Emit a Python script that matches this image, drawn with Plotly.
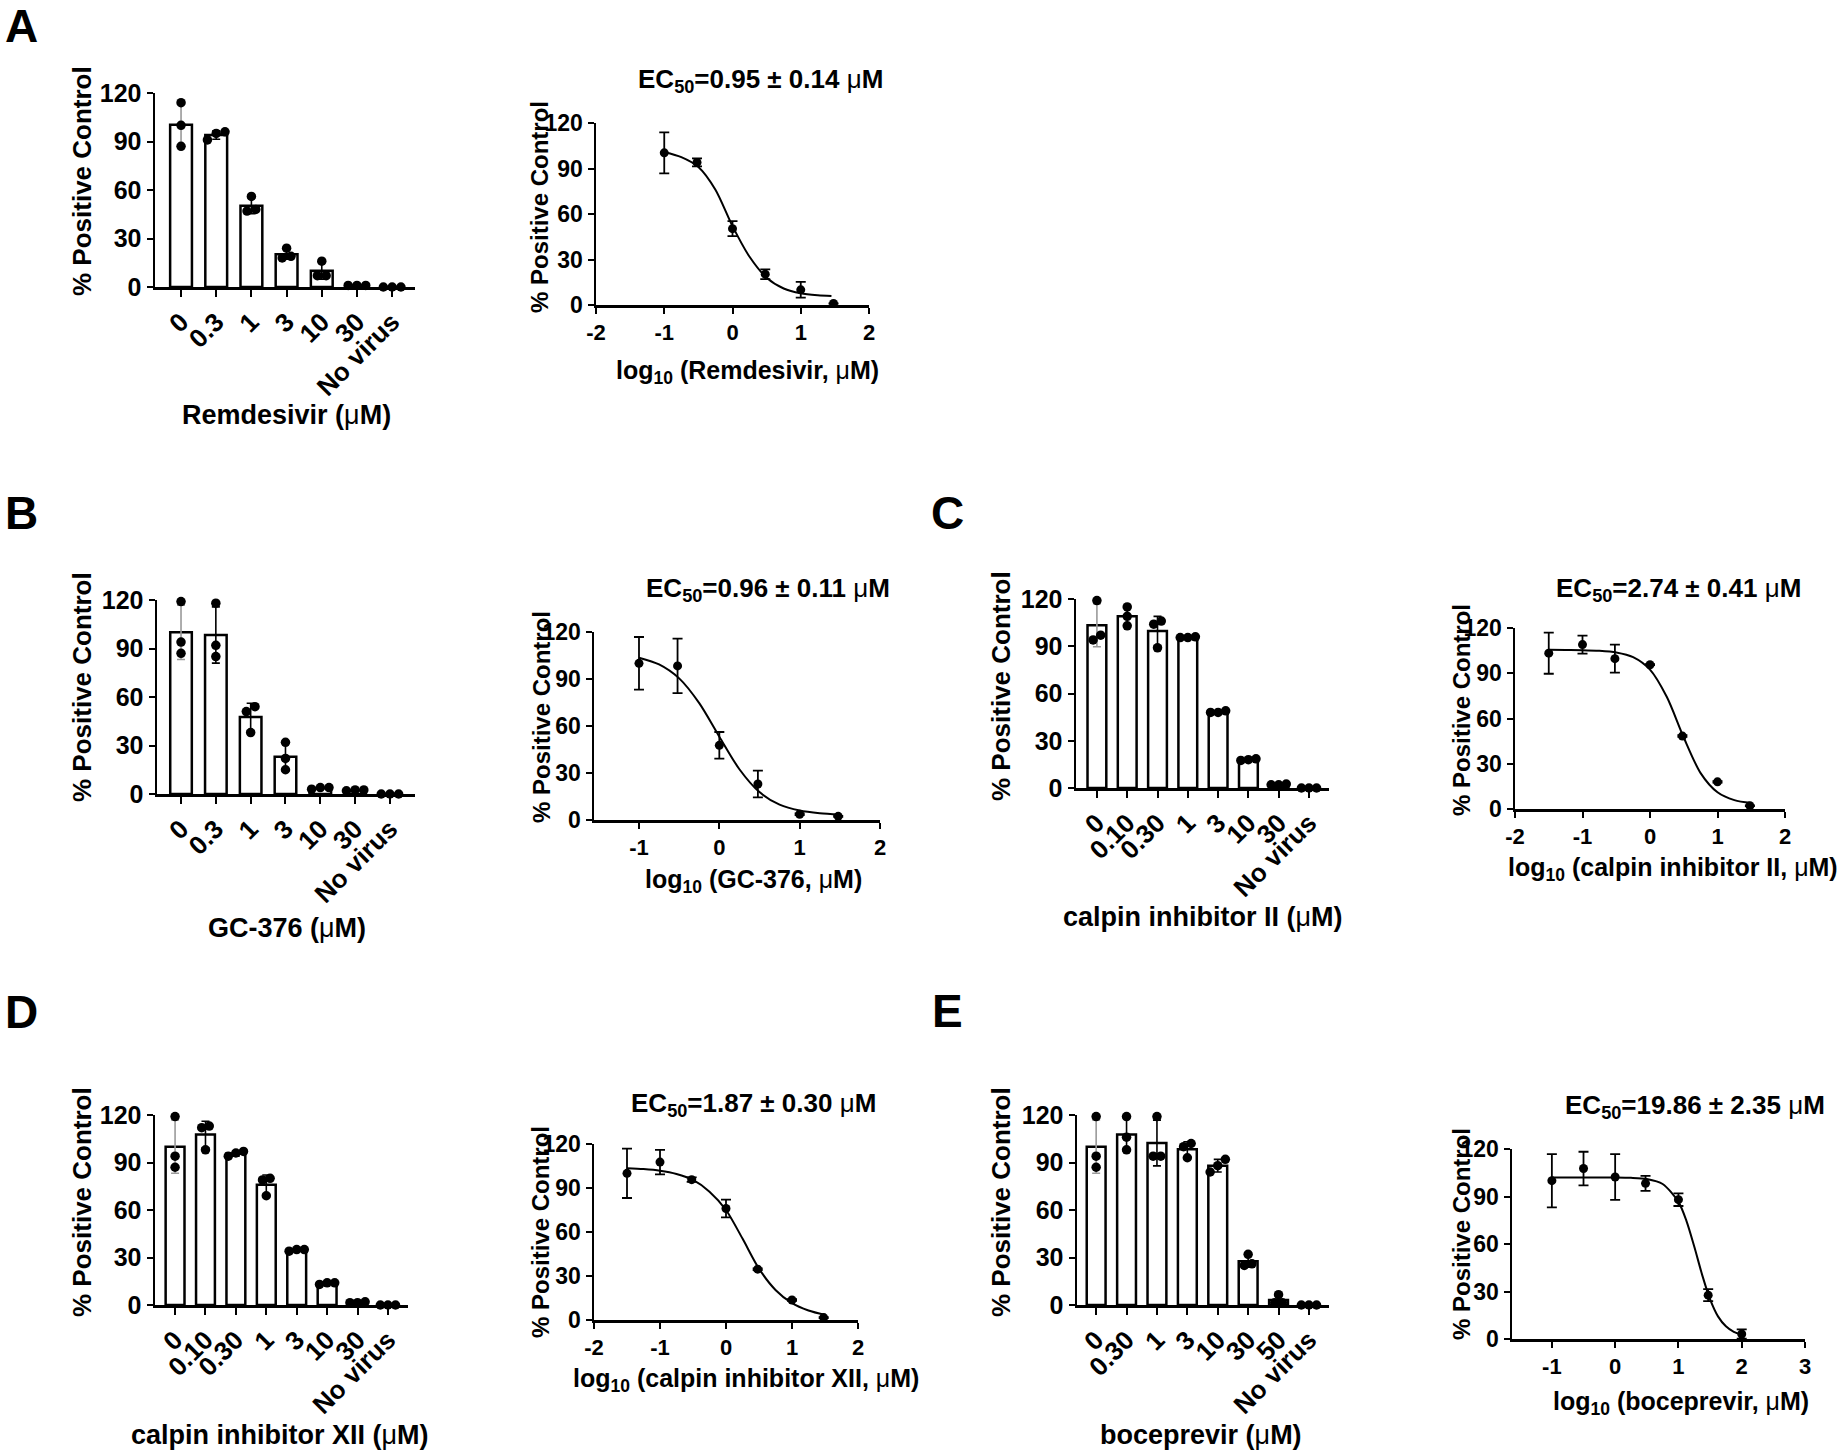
import numpy as np
import plotly.graph_objects as go

W, H = 1842, 1450
FONT = "Liberation Sans, Arial, sans-serif"

# ---------------- DATA ----------------
# Panel A - Remdesivir
A_cats = ["0", "0.3", "1", "3", "10", "30", "No virus"]
A_rep1 = [114, 96, 56, 24, 16, 1, 0]
A_rep2 = [100, 91, 47, 18, 7, 1, 0]
A_rep3 = [87, 95, 48, 19, 7, 1, 0]
A_logx = [-1, -0.52, 0, 0.48, 1, 1.48]
A_fit_x = [-1, -0.75, -0.5, -0.25, 0, 0.25, 0.5, 0.75, 1, 1.25, 1.45]
A_fit_y = [100.9, 97.5, 91.0, 76.0, 52.0, 31.8, 18.0, 10.9, 7.7, 6.4, 5.9]

# Panel B - GC-376
B_cats = ["0", "0.3", "1", "3", "10", "30", "No virus"]
B_rep1 = [119, 118, 54, 32, 3, 2, 0]
B_rep2 = [94, 92, 51, 22, 4, 2.5, 0]
B_rep3 = [87, 85, 38, 15, 4, 2.5, 0]
B_logx = [-1, -0.52, 0, 0.48, 1, 1.48]
B_fit_x = [-1, -0.75, -0.5, -0.25, 0, 0.25, 0.5, 0.75, 1, 1.25, 1.5]
B_fit_y = [103.6, 99.3, 90.4, 74.6, 53.2, 32.4, 17.8, 9.8, 6.0, 4.3, 3.5]

# Panel C - calpin inhibitor II
C_cats = ["0", "0.10", "0.30", "1", "3", "10", "30", "No virus"]
C_rep1 = [119, 115, 106, 96, 48, 18, 2, 0]
C_rep2 = [94, 109, 104, 95.5, 48, 17.5, 2, 0]
C_rep3 = [97, 103, 89, 95.5, 49, 18.5, 2.5, 0]
C_logx = [-1.5, -1, -0.52, 0, 0.48, 1, 1.48]
C_fit_x = [-1.5, -1.25, -1, -0.75, -0.5, -0.25, 0, 0.25, 0.5, 0.75, 1, 1.25, 1.5]
C_fit_y = [105.5, 105.4, 105.3, 104.9, 103.8, 100.7, 92.4, 74.2, 47.4, 23.8, 11.1, 5.9, 4.0]

# Panel D - calpin inhibitor XII
D_cats = ["0", "0.10", "0.30", "1", "3", "10", "30", "No virus"]
D_rep1 = [119, 113, 97, 80, 35, 14, 1.5, 0]
D_rep2 = [94, 112, 94, 79, 34, 13, 1.5, 0]
D_rep3 = [87, 98, 96, 69, 35, 14, 2, 0]
D_logx = [-1.5, -1, -0.52, 0, 0.48, 1, 1.48]
D_fit_x = [-1.5, -1.25, -1, -0.75, -0.5, -0.25, 0, 0.25, 0.5, 0.75, 1, 1.25, 1.5]
D_fit_y = [103.5, 102.9, 101.8, 99.6, 95.5, 87.5, 75.0, 55.5, 35.0, 20.5, 11.5, 6.5, 3.5]

# Panel E - boceprevir
E_cats = ["0", "0.30", "1", "3", "10", "30", "50", "No virus"]
E_rep1 = [119, 119, 119, 102, 92, 32, 6.5, 0]
E_rep2 = [94, 106, 94, 100, 88, 26, 1.5, 0]
E_rep3 = [87, 98, 94, 93, 84, 25, 1.5, 0]
E_logx = [-1, -0.5, 0, 0.48, 1, 1.47, 2.0]
E_fit_x = [-1, -0.5, 0, 0.25, 0.5, 0.75, 1, 1.125, 1.25, 1.375, 1.5, 1.625, 1.75, 1.875, 2]
E_fit_y = [102, 102, 102, 101.8, 101.0, 97.9, 86.6, 74.8, 58.4, 40.5, 25.0, 14.3, 8.0, 4.5, 2.7]

EC50_text = {"A": "0.95 ± 0.14", "B": "0.96 ± 0.11", "C": "2.74 ± 0.41",
             "D": "1.87 ± 0.30", "E": "19.86 ± 2.35"}
drug_names = {"A": "Remdesivir", "B": "GC-376", "C": "calpin inhibitor II",
              "D": "calpin inhibitor XII", "E": "boceprevir"}

# ---------------- LAYOUT GEOMETRY (pixels) ----------------
bar_geom = {
    "A": dict(x=(155, 415), y=(93, 287), xr=(-0.74, 6.65), ytitle=(82, 181), xtitle=(286, 415)),
    "B": dict(x=(157, 415), y=(600, 794), xr=(-0.69, 6.72), ytitle=(82, 687), xtitle=(287, 928)),
    "C": dict(x=(1076, 1329), y=(599, 788), xr=(-0.69, 7.66), ytitle=(1001, 686), xtitle=(1203, 917)),
    "D": dict(x=(155, 408), y=(1115, 1305), xr=(-0.66, 7.66), ytitle=(82, 1202), xtitle=(280, 1435)),
    "E": dict(x=(1077, 1329), y=(1115, 1305), xr=(-0.63, 7.66), ytitle=(1001, 1202), xtitle=(1201, 1435)),
}
curve_geom = {
    "A": dict(x=(596, 869), y=(123, 305), xr=(-2, 2), ytitle=(539, 207), xtitle=(747, 372), ec=(760, 80)),
    "B": dict(x=(594, 880), y=(632, 820), xr=(-1.56, 2), ytitle=(541, 717), xtitle=(753, 881), ec=(768, 589)),
    "C": dict(x=(1515, 1785), y=(628, 809), xr=(-2, 2), ytitle=(1461, 710), xtitle=(1673, 869), ec=(1678, 589)),
    "D": dict(x=(594, 858), y=(1144, 1320), xr=(-2, 2), ytitle=(540, 1232), xtitle=(746, 1380), ec=(753, 1104)),
    "E": dict(x=(1512, 1805), y=(1149, 1339), xr=(-1.63, 3), ytitle=(1461, 1234), xtitle=(1681, 1403), ec=(1695, 1106)),
}
letters = {"A": (21, 26), "B": (21, 513), "C": (947, 513), "D": (21, 1012), "E": (947, 1011)}

panels = {
    "A": (A_cats, [A_rep1, A_rep2, A_rep3], A_logx, A_fit_x, A_fit_y),
    "B": (B_cats, [B_rep1, B_rep2, B_rep3], B_logx, B_fit_x, B_fit_y),
    "C": (C_cats, [C_rep1, C_rep2, C_rep3], C_logx, C_fit_x, C_fit_y),
    "D": (D_cats, [D_rep1, D_rep2, D_rep3], D_logx, D_fit_x, D_fit_y),
    "E": (E_cats, [E_rep1, E_rep2, E_rep3], E_logx, E_fit_x, E_fit_y),
}


def fx(p):
    return p / W


def fy(p):
    return 1 - p / H


def spread(vals, thr=5.0, step=0.25):
    order = sorted(range(len(vals)), key=lambda i: vals[i])
    clusters, cur = [], [order[0]]
    for i in order[1:]:
        if vals[i] - vals[cur[-1]] < thr:
            cur.append(i)
        else:
            clusters.append(cur)
            cur = [i]
    clusters.append(cur)
    off = [0.0] * len(vals)
    for c in clusters:
        n = len(c)
        for k, i in enumerate(c):
            off[i] = (k - (n - 1) / 2) * step
    return off


fig = go.Figure()
layout = dict(width=W, height=H, margin=dict(l=0, r=0, t=0, b=0, pad=0, autoexpand=False), autosize=False,
              paper_bgcolor="white", plot_bgcolor="rgba(0,0,0,0)", showlegend=False,
              font=dict(family=FONT, color="black"))
annotations = []

axis_common = dict(showline=True, linecolor="black", linewidth=2.5, ticks="outside",
                   tickcolor="black", tickwidth=2, ticklen=7, showgrid=False, zeroline=False,
                   fixedrange=True, automargin=False)

ax_i = 0
for key in ["A", "B", "C", "D", "E"]:
    cats, reps, logx, fit_x, fit_y = panels[key]
    R = np.array(reps, dtype=float)
    means = R.mean(axis=0)
    sds = R.std(axis=0, ddof=1)
    idx = list(range(len(cats)))

    # ---------- bar panel ----------
    ax_i += 1
    xa, ya = f"x{ax_i}", f"y{ax_i}"
    g = bar_geom[key]
    fig.add_trace(go.Bar(x=idx, y=means, width=0.62, xaxis=xa, yaxis=ya,
                         marker=dict(color="white", line=dict(color="black", width=2.5))))
    # error bars (first one lighter grey, as in the original)
    fig.add_trace(go.Scatter(x=idx[1:], y=means[1:], mode="markers", xaxis=xa, yaxis=ya,
                             marker=dict(size=1, color="rgba(0,0,0,0)"),
                             error_y=dict(type="data", array=sds[1:], color="black", thickness=1.6, width=4),
                             cliponaxis=False))
    fig.add_trace(go.Scatter(x=idx[:1], y=means[:1], mode="markers", xaxis=xa, yaxis=ya,
                             marker=dict(size=1, color="rgba(0,0,0,0)"),
                             error_y=dict(type="data", array=sds[:1], color="#9a9a9a", thickness=1.6, width=4),
                             cliponaxis=False))
    # replicate dots
    dot_x, dot_y = [], []
    for j in idx:
        col = [r[j] for r in reps]
        off = spread(col)
        for v, o in zip(col, off):
            dot_x.append(j + o)
            dot_y.append(v)
    fig.add_trace(go.Scatter(x=dot_x, y=dot_y, mode="markers", xaxis=xa, yaxis=ya,
                             marker=dict(size=9.5, color="black"), cliponaxis=False))
    layout[f"xaxis{ax_i}"] = dict(axis_common, domain=[fx(g["x"][0]), fx(g["x"][1])], anchor=ya,
                                  range=list(g["xr"]), tickmode="array", tickvals=idx, ticktext=cats,
                                  tickangle=-45, tickfont=dict(family=FONT, size=26, weight="bold"))
    layout[f"yaxis{ax_i}"] = dict(axis_common, domain=[fy(g["y"][1]), fy(g["y"][0])], anchor=xa,
                                  range=[0, 120], tickmode="array", tickvals=[0, 30, 60, 90, 120],
                                  ticklen=6, tickfont=dict(family=FONT, size=25, weight="bold"))
    annotations.append(dict(x=fx(g["ytitle"][0]), y=fy(g["ytitle"][1]), xref="paper", yref="paper",
                            text="<b>% Positive Control</b>", textangle=-90, showarrow=False,
                            xanchor="center", yanchor="middle", font=dict(size=26, family=FONT)))
    annotations.append(dict(x=fx(g["xtitle"][0]), y=fy(g["xtitle"][1]), xref="paper", yref="paper",
                            text=f"<b>{drug_names[key]} (</b>μ<b>M)</b>", showarrow=False,
                            xanchor="center", yanchor="middle", font=dict(size=27, family=FONT)))

    # ---------- dose-response panel ----------
    ax_i += 1
    xa, ya = f"x{ax_i}", f"y{ax_i}"
    g = curve_geom[key]
    n = len(logx)
    fig.add_trace(go.Scatter(x=fit_x, y=fit_y, mode="lines", xaxis=xa, yaxis=ya,
                             line=dict(color="black", width=2, shape="spline", smoothing=0.8),
                             cliponaxis=False))
    fig.add_trace(go.Scatter(x=logx, y=means[:n], mode="markers", xaxis=xa, yaxis=ya,
                             marker=dict(size=9, color="black"),
                             error_y=dict(type="data", array=sds[:n], color="black", thickness=1.8, width=5),
                             cliponaxis=False))
    xr = g["xr"]
    ticks = [t for t in range(int(np.ceil(xr[0])), int(np.floor(xr[1])) + 1)]
    layout[f"xaxis{ax_i}"] = dict(axis_common, domain=[fx(g["x"][0]), fx(g["x"][1])], anchor=ya,
                                  range=list(xr), tickmode="array", tickvals=ticks,
                                  ticktext=[str(t) for t in ticks], ticklen=6,
                                  tickfont=dict(family=FONT, size=22, weight="bold"))
    layout[f"yaxis{ax_i}"] = dict(axis_common, domain=[fy(g["y"][1]), fy(g["y"][0])], anchor=xa,
                                  range=[0, 120], tickmode="array", tickvals=[0, 30, 60, 90, 120],
                                  ticklen=6, tickfont=dict(family=FONT, size=23, weight="bold"))
    annotations.append(dict(x=fx(g["ytitle"][0]), y=fy(g["ytitle"][1]), xref="paper", yref="paper",
                            text="<b>% Positive Control</b>", textangle=-90, showarrow=False,
                            xanchor="center", yanchor="middle", font=dict(size=24, family=FONT)))
    annotations.append(dict(x=fx(g["xtitle"][0]), y=fy(g["xtitle"][1]), xref="paper", yref="paper",
                            text=f"<b>log<sub>10</sub> ({drug_names[key]}, </b>μ<b>M)</b>", showarrow=False,
                            xanchor="center", yanchor="middle", font=dict(size=25, family=FONT)))
    annotations.append(dict(x=fx(g["ec"][0]), y=fy(g["ec"][1]), xref="paper", yref="paper",
                            text=f"<b>EC<sub>50</sub>={EC50_text[key]} </b>μ<b>M</b>", showarrow=False,
                            xanchor="center", yanchor="middle", font=dict(size=26, family=FONT)))

for key, (lx, ly) in letters.items():
    annotations.append(dict(x=fx(lx), y=fy(ly), xref="paper", yref="paper", text=f"<b>{key}</b>",
                            showarrow=False, xanchor="center", yanchor="middle",
                            font=dict(size=46, family=FONT)))

layout["annotations"] = annotations
fig.update_layout(**layout)
fig.write_html("out.html", config={"displayModeBar": False, "staticPlot": True},
               post_script="document.body.style.margin='0';document.body.style.padding='0';")
